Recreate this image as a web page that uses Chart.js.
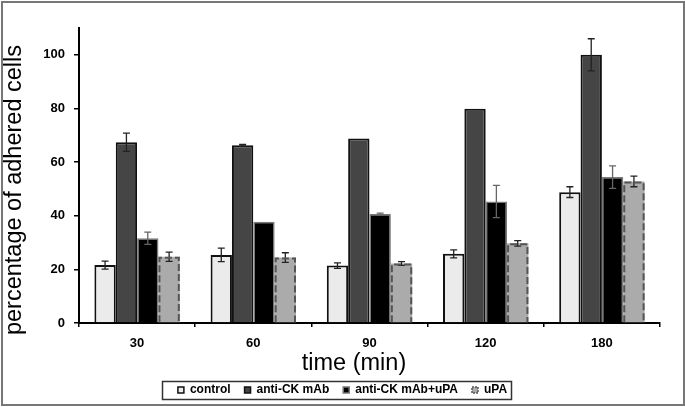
<!DOCTYPE html>
<html>
<head>
<meta charset="utf-8">
<script src="https://cdn.jsdelivr.net/npm/chart.js@4/dist/chart.umd.min.js"></script>
<style>
html,body{margin:0;padding:0;background:#fff;}
#wrap{width:685px;height:407px;position:relative;}
</style>
</head>
<body>
<div id="wrap"><canvas id="c" width="685" height="407"></canvas></div>
<script>
const categories = ['30', '60', '90', '120', '180'];
const seriesNames = ['control', 'anti-CK mAb', 'anti-CK mAb+uPA', 'uPA'];
const control = [21.6, 25.4, 21.4, 25.8, 48.8];
const controlErr = [1.5, 2.5, 1.0, 1.5, 2.0];
const antiCK = [67.4, 66.3, 68.8, 79.9, 100];
const antiCKErr = [3.4, 0.3, 0, 0, 6];
const antiCKuPA = [31.6, 37.8, 40.6, 45.3, 54.4];
const antiCKuPAErr = [2.3, 0, 0.4, 6, 4.2];
const uPA = [24.7, 24.4, 22.2, 29.7, 52.8];
const uPAErr = [1.7, 1.8, 0.7, 1.0, 2.0];
const yTicks = [0, 20, 40, 60, 80, 100];
const yTitle = 'percentage of adhered cells';
const xTitle = 'time (min)';

const FONT = "'Liberation Sans', Arial, sans-serif";

const errorBars = {
  id: 'errorBars',
  afterDatasetsDraw(chart) {
    const ctx = chart.ctx;
    const y = chart.scales.y;
    chart.data.datasets.forEach((ds, di) => {
      const meta = chart.getDatasetMeta(di);
      ctx.save();
      ctx.strokeStyle = ds.errColor;
      ctx.lineWidth = 1.3;
      meta.data.forEach((bar, i) => {
        const e = ds.errors[i];
        if (!e) return;
        const v = ds.data[i];
        const top = y.getPixelForValue(v + e);
        const bot = y.getPixelForValue(v - e);
        const x = bar.x;
        ctx.beginPath();
        ctx.moveTo(x, top); ctx.lineTo(x, bot);
        ctx.moveTo(x - 3.5, top); ctx.lineTo(x + 3.5, top);
        ctx.moveTo(x - 3.5, bot); ctx.lineTo(x + 3.5, bot);
        ctx.stroke();
      });
      ctx.restore();
    });
  }
};

const dashedBars = {
  id: 'dashedBars',
  afterDatasetsDraw(chart) {
    const ctx = chart.ctx;
    chart.data.datasets.forEach((ds, di) => {
      if (!ds.dashed) return;
      const meta = chart.getDatasetMeta(di);
      ctx.save();
      ctx.strokeStyle = '#555';
      ctx.lineWidth = 2;
      ctx.setLineDash([7, 3]);
      meta.data.forEach(bar => {
        const l = bar.x - bar.width / 2 + 1;
        const r = bar.x + bar.width / 2 - 1;
        const t = bar.y + 1;
        const b = bar.base;
        ctx.beginPath();
        ctx.moveTo(l, b); ctx.lineTo(l, t); ctx.lineTo(r, t); ctx.lineTo(r, b);
        ctx.stroke();
      });
      ctx.restore();
    });
  }
};

const decor = {
  id: 'decor',
  afterDraw(chart) {
    const ctx = chart.ctx;
    ctx.save();
    ctx.fillStyle = '#000';
    ctx.font = "23.5px " + FONT;
    ctx.textAlign = 'center';
    ctx.textBaseline = 'alphabetic';
    ctx.fillText(xTitle, 354, 370);
    ctx.translate(21, 190);
    ctx.rotate(-Math.PI / 2);
    ctx.fillText(yTitle, 0, 0);
    ctx.restore();
    const lg = chart.legend;
    if (lg && lg.legendHitBoxes && lg.legendHitBoxes.length) {
      const hb = lg.legendHitBoxes;
      let minL = Infinity, maxR = -Infinity, minT = Infinity, maxB = -Infinity;
      hb.forEach(h => {
        minL = Math.min(minL, h.left); maxR = Math.max(maxR, h.left + h.width);
        minT = Math.min(minT, h.top); maxB = Math.max(maxB, h.top + h.height);
      });
      ctx.save();
      ctx.strokeStyle = '#333';
      ctx.lineWidth = 1.5;
      ctx.strokeRect(Math.round(minL - 16) + 0.5, Math.round((minT + maxB) / 2 - 9) + 0.5, Math.round(maxR - minL + 20), 18);
      ctx.restore();
    }
    ctx.save();
    ctx.strokeStyle = '#777';
    ctx.lineWidth = 2;
    ctx.strokeRect(2, 2, 682, 403);
    ctx.restore();
  }
};

new Chart(document.getElementById('c'), {
  type: 'bar',
  data: {
    labels: categories,
    datasets: [
      { label: seriesNames[0], data: control, errors: controlErr, errColor: '#222',
        backgroundColor: '#ebebeb', borderColor: '#111', borderWidth: 2 },
      { label: seriesNames[1], data: antiCK, errors: antiCKErr, errColor: '#222',
        backgroundColor: '#454545', borderColor: '#111', borderWidth: 2 },
      { label: seriesNames[2], data: antiCKuPA, errors: antiCKuPAErr, errColor: '#666',
        backgroundColor: '#000', borderColor: '#7a7a7a', borderWidth: 1.5 },
      { label: seriesNames[3], data: uPA, errors: uPAErr, errColor: '#222', dashed: true,
        backgroundColor: '#ababab', borderColor: '#555', borderWidth: 0 }
    ]
  },
  options: {
    responsive: false,
    animation: false,
    devicePixelRatio: 1,
    layout: { padding: { top: 28, left: 0, right: 0, bottom: 1 } },
    datasets: { bar: { categoryPercentage: 0.735, barPercentage: 1.0 } },
    scales: {
      x: {
        offset: true,
        grid: { display: true, drawOnChartArea: false, drawTicks: true, tickLength: 4, color: '#000', lineWidth: 1.5, offset: true },
        border: { display: true, color: '#000', width: 2 },
        ticks: { color: '#000', font: { family: FONT, size: 13, weight: 'bold' }, padding: 9 },
        afterFit(s) { s.height = 47; }
      },
      y: {
        min: 0, max: 110,
        afterBuildTicks(s) { s.ticks = yTicks.map(v => ({ value: v })); },
        grid: { display: true, drawOnChartArea: false, drawTicks: true, tickLength: 5, color: '#000', lineWidth: 1.5 },
        border: { display: true, color: '#000', width: 2 },
        ticks: { color: '#000', font: { family: FONT, size: 13, weight: 'bold' }, padding: 9 },
        afterFit(s) { s.width = 79; }
      },
      yR: {
        position: 'right', display: true,
        grid: { display: false }, border: { display: false },
        ticks: { display: false },
        afterFit(s) { s.width = 25; }
      }
    },
    plugins: {
      tooltip: { enabled: false },
      legend: {
        position: 'bottom',
        labels: {
          color: '#000',
          font: { family: FONT, size: 12, weight: 'bold' },
          boxWidth: 6, boxHeight: 6, padding: 14,
          generateLabels(chart) {
            const items = Chart.defaults.plugins.legend.labels.generateLabels(chart);
            items.forEach((it, i) => {
              it.lineWidth = 1.5;
              if (i === 3) { it.strokeStyle = '#555'; it.lineDash = [2, 1]; }
              if (i === 2) { it.strokeStyle = '#777'; }
            });
            return items;
          }
        }
      }
    }
  },
  plugins: [errorBars, dashedBars, decor]
});
</script>
</body>
</html>
